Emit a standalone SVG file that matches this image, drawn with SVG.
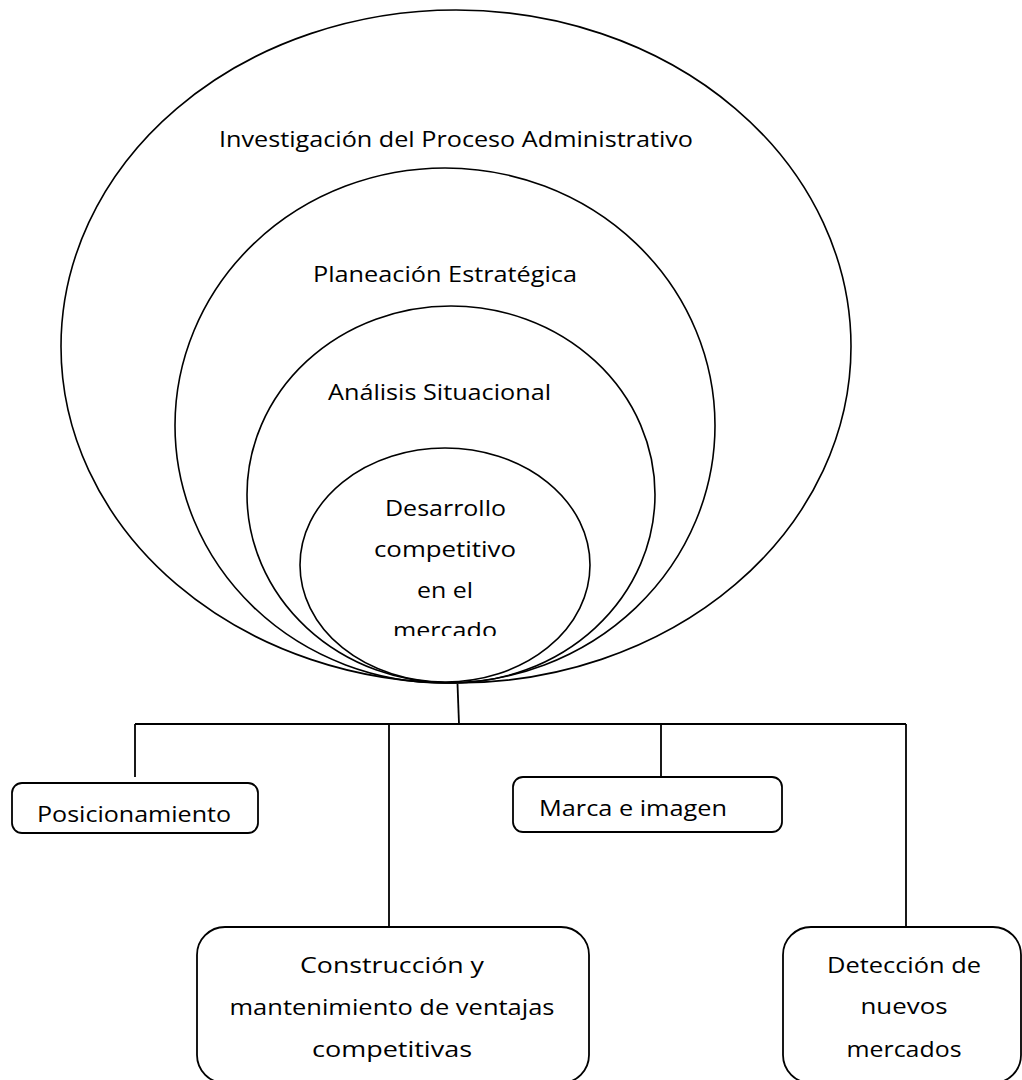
<svg xmlns="http://www.w3.org/2000/svg" width="1022" height="1080" viewBox="0 0 1022 1080">
  <style>
    .ring { fill: none; stroke: #000; stroke-width: 1.6; }
    .box { fill: #fff; stroke: #000; stroke-width: 1.8; }
    .wire { fill: none; stroke: #000; stroke-width: 1.8; }
    .lbl { font-family: "Open Sans", Lato, "Liberation Sans", sans-serif; font-size: 22px; fill: #000; text-anchor: middle; }
  </style>
  <defs>
    <!-- the innermost label box cuts off its last line -->
    <clipPath id="coreClip">
      <rect x="290" y="440" width="320" height="196"/>
    </clipPath>
  </defs>
  <rect width="1022" height="1080" fill="#fff"/>

  <!-- nested ellipses, all touching at the bottom -->
  <g id="investigacion">
    <ellipse class="ring" cx="456" cy="346.5" rx="395" ry="336.5"/>
    <text class="lbl" x="456" y="147" textLength="474" lengthAdjust="spacingAndGlyphs">Investigación del Proceso Administrativo</text>
  </g>
  <g id="planeacion">
    <ellipse class="ring" cx="445" cy="425.5" rx="270" ry="257.5"/>
    <text class="lbl" x="445" y="282" textLength="264" lengthAdjust="spacingAndGlyphs">Planeación Estratégica</text>
  </g>
  <g id="analisis">
    <ellipse class="ring" cx="451" cy="494.5" rx="204" ry="188.5"/>
    <text class="lbl" x="439.5" y="400" textLength="223" lengthAdjust="spacingAndGlyphs">Análisis Situacional</text>
  </g>
  <g id="desarrollo">
    <ellipse class="ring" cx="445" cy="565" rx="145" ry="117"/>
    <g clip-path="url(#coreClip)">
      <text class="lbl" x="445.5" y="516" textLength="121" lengthAdjust="spacingAndGlyphs">Desarrollo</text>
      <text class="lbl" x="445" y="557" textLength="142" lengthAdjust="spacingAndGlyphs">competitivo</text>
      <text class="lbl" x="445" y="598" textLength="56" lengthAdjust="spacingAndGlyphs">en el</text>
      <text class="lbl" x="445" y="638" textLength="104" lengthAdjust="spacingAndGlyphs">mercado</text>
    </g>
  </g>

  <!-- tree connectors -->
  <g id="connectors">
    <path class="wire" d="M457.5 684 L459 724"/>
    <path class="wire" d="M135 724 H906"/>
    <path class="wire" d="M135 724 V777"/>
    <path class="wire" d="M389 724 V927"/>
    <path class="wire" d="M661 724 V777"/>
    <path class="wire" d="M906 724 V927"/>
  </g>

  <!-- leaf boxes -->
  <g id="posicionamiento">
    <rect class="box" x="12" y="783" width="246" height="50" rx="10"/>
    <text class="lbl" x="134" y="822" textLength="194" lengthAdjust="spacingAndGlyphs">Posicionamiento</text>
  </g>
  <g id="marca">
    <rect class="box" x="513" y="777" width="269" height="55" rx="10"/>
    <text class="lbl" x="633" y="816" textLength="188" lengthAdjust="spacingAndGlyphs">Marca e imagen</text>
  </g>
  <g id="construccion">
    <rect class="box" x="197" y="927" width="392" height="156" rx="28"/>
    <text class="lbl" x="392" y="973" textLength="184" lengthAdjust="spacingAndGlyphs">Construcción y</text>
    <text class="lbl" x="392" y="1015" textLength="325" lengthAdjust="spacingAndGlyphs">mantenimiento de ventajas</text>
    <text class="lbl" x="392" y="1057" textLength="160" lengthAdjust="spacingAndGlyphs">competitivas</text>
  </g>
  <g id="deteccion">
    <rect class="box" x="783" y="927" width="238" height="156" rx="28"/>
    <text class="lbl" x="904" y="973" textLength="154" lengthAdjust="spacingAndGlyphs">Detección de</text>
    <text class="lbl" x="904" y="1014" textLength="87" lengthAdjust="spacingAndGlyphs">nuevos</text>
    <text class="lbl" x="904" y="1057" textLength="115" lengthAdjust="spacingAndGlyphs">mercados</text>
  </g>
</svg>
